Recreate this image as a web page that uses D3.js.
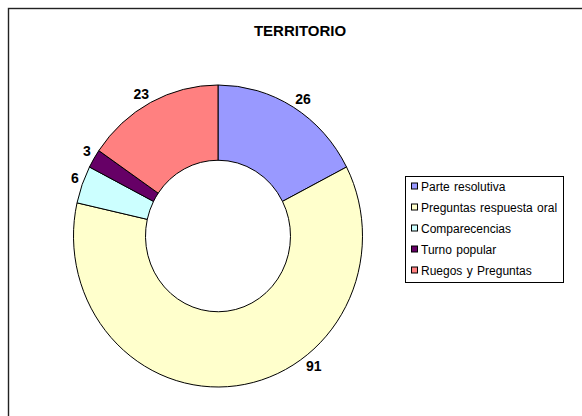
<!DOCTYPE html>
<html>
<head>
<meta charset="utf-8">
<script src="https://cdn.jsdelivr.net/npm/d3@7"></script>
<style>
  html, body { margin: 0; padding: 0; background: #fff; }
  svg { display: block; font-family: "Liberation Sans", Arial, sans-serif; }
</style>
</head>
<body>
<svg id="chart" width="582" height="416"></svg>
<script>
const title = "TERRITORIO";
const categories = ["Parte resolutiva", "Preguntas respuesta oral", "Comparecencias", "Turno popular", "Ruegos y Preguntas"];
const values = [26, 91, 6, 3, 23];
const colors = ["#9999FF", "#FFFFCC", "#CCFFFF", "#660066", "#FF8080"];

const svg = d3.select("#chart");

// chart frame (open to the right/bottom as in the reference)
svg.append("rect")
  .attr("x", 8.5).attr("y", 8.5)
  .attr("width", 620).attr("height", 460)
  .attr("fill", "#fff").attr("stroke", "#222").attr("stroke-width", 1.4);

svg.append("text")
  .attr("x", 300).attr("y", 36)
  .attr("text-anchor", "middle")
  .attr("font-size", 15).attr("font-weight", "bold")
  .text(title);

const cx = 218, cy = 236, rOut = 144.5, rIn = 72.5, sy = 1.045;
const data = categories.map((c, i) => ({ name: c, value: values[i], color: colors[i] }));
const pie = d3.pie().value(d => d.value).sort(null);
const arcs = pie(data);
const arc = d3.arc().innerRadius(rIn).outerRadius(rOut);

const g = svg.append("g").attr("transform", `translate(${cx},${cy}) scale(1,${sy})`);
g.selectAll("path").data(arcs).enter().append("path")
  .attr("d", arc)
  .attr("fill", d => d.data.color)
  .attr("stroke", "#000")
  .attr("stroke-width", 1)
  .attr("vector-effect", "non-scaling-stroke");

// data labels: the label box corner nearest the ring sits on an anchor just outside it
const anchorR = 148;
const angleShift = { "Preguntas respuesta oral": -0.51 }; // layout nudge (radians) for the large slice label
const labelH = 11;
svg.append("g").selectAll("text").data(arcs).enter().append("text")
  .attr("text-anchor", "middle")
  .attr("font-size", 14).attr("font-weight", "bold")
  .text(d => d.data.value)
  .each(function(d) {
    const a = (d.startAngle + d.endAngle) / 2 + (angleShift[d.data.name] || 0);
    const w = this.getComputedTextLength();
    const s = Math.sin(a), c = Math.cos(a);
    const x = cx + anchorR * s + Math.sign(s) * w / 2;
    const y = cy - anchorR * sy * c - Math.sign(c) * labelH / 2;
    d3.select(this).attr("x", x).attr("y", y).attr("dy", "0.36em");
  });

// legend
const lx = 405, ly = 176, lw = 158, lh = 106, step = 21;
const lg = svg.append("g");
lg.append("rect").attr("x", lx + 0.5).attr("y", ly + 0.5).attr("width", lw).attr("height", lh)
  .attr("fill", "#fff").attr("stroke", "#000").attr("stroke-width", 1);
const items = lg.selectAll("g.item").data(data).enter().append("g")
  .attr("transform", (d, i) => `translate(${lx + 6},${ly + 10.5 + i * step})`);
items.append("rect").attr("x", 0.5).attr("y", -3.5).attr("width", 6).attr("height", 6)
  .attr("fill", d => d.color).attr("stroke", "#000").attr("stroke-width", 1);
items.append("text").attr("x", 10).attr("y", 0).attr("dy", "0.36em")
  .attr("font-size", 12).attr("word-spacing", 1)
  .text(d => d.name);
</script>
</body>
</html>
